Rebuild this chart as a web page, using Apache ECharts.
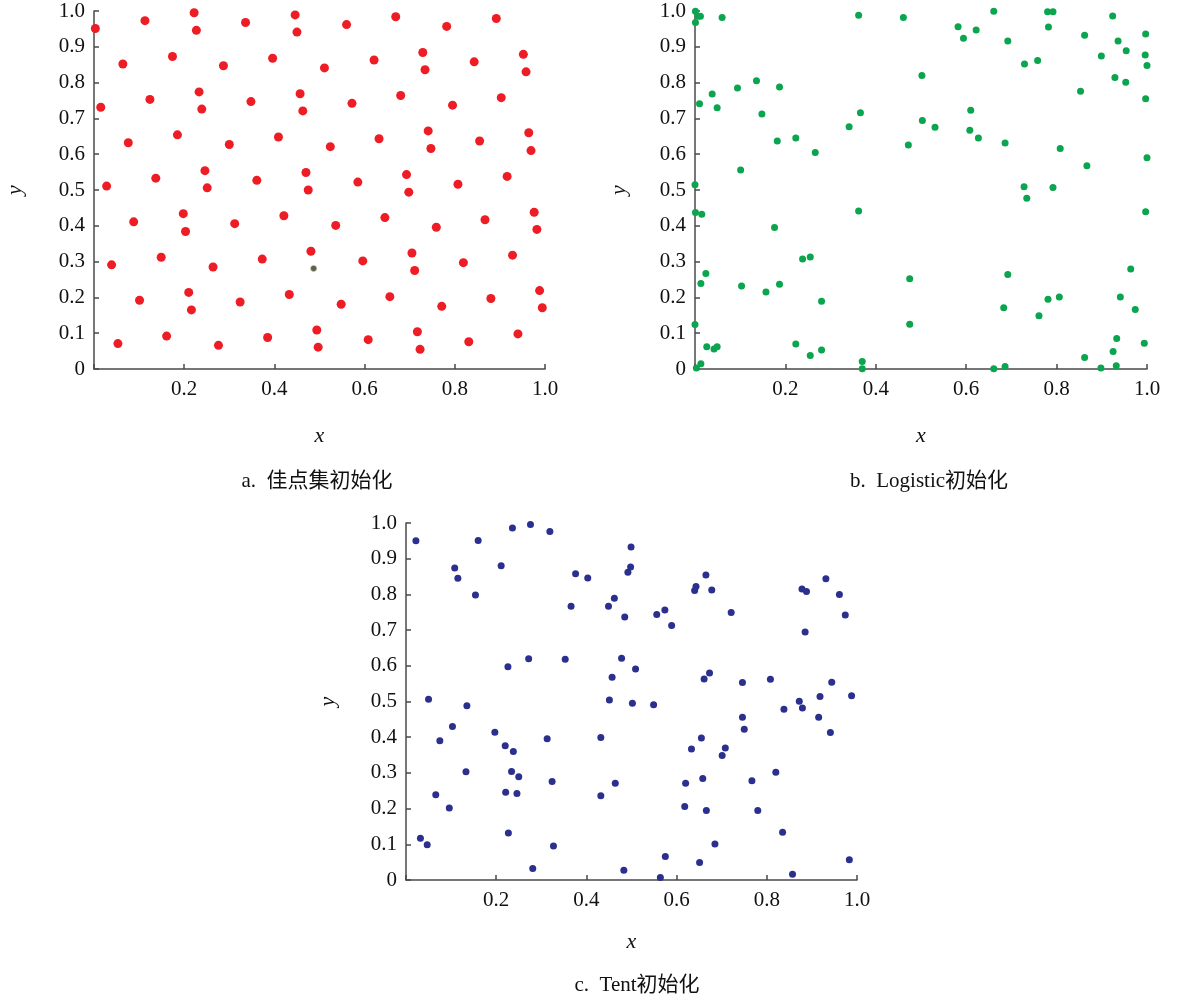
<!DOCTYPE html>
<html>
<head>
<meta charset="utf-8">
<script src="https://cdn.jsdelivr.net/npm/echarts@6/dist/echarts.min.js"></script>
<style>
  html, body { margin: 0; padding: 0; background: #fff; }
  #chart { width: 1179px; height: 997px; }
</style>
</head>
<body>
<div id="chart"></div>
<script>
// Population initialisation: good point set, Logistic map, Tent map
const goodPoints = [
  [0.003,0.951],[0.113,0.973],[0.222,0.995],[0.227,0.946],[0.336,0.968],[0.446,0.989],[0.450,0.941],
  [0.064,0.852],[0.174,0.873],[0.287,0.847],[0.396,0.868],[0.015,0.731],[0.124,0.753],[0.233,0.774],
  [0.239,0.726],[0.348,0.747],[0.457,0.769],[0.463,0.721],[0.076,0.632],[0.185,0.654],[0.300,0.627],
  [0.409,0.648],[0.028,0.511],[0.137,0.533],[0.246,0.554],[0.251,0.506],[0.361,0.527],[0.470,0.549],
  [0.475,0.500],[0.088,0.411],[0.198,0.434],[0.203,0.384],[0.312,0.406],[0.421,0.428],[0.039,0.291],
  [0.149,0.312],[0.264,0.285],[0.373,0.307],[0.481,0.329],[0.101,0.192],[0.210,0.214],[0.216,0.165],
  [0.324,0.187],[0.433,0.208],[0.053,0.071],[0.161,0.092],[0.276,0.066],[0.385,0.088],[0.494,0.109],
  [0.497,0.061],
  [0.560,0.962],[0.669,0.984],[0.782,0.957],[0.892,0.979],[0.511,0.841],[0.621,0.863],[0.729,0.884],
  [0.734,0.836],[0.843,0.858],[0.952,0.879],[0.958,0.830],[0.572,0.742],[0.680,0.764],[0.795,0.737],
  [0.903,0.758],[0.524,0.621],[0.632,0.643],[0.741,0.665],[0.747,0.616],[0.855,0.637],[0.964,0.660],
  [0.969,0.610],[0.585,0.522],[0.693,0.543],[0.698,0.494],[0.807,0.516],[0.916,0.538],[0.536,0.401],
  [0.645,0.423],[0.759,0.396],[0.867,0.417],[0.976,0.438],[0.982,0.390],[0.596,0.302],[0.705,0.324],
  [0.711,0.275],[0.819,0.297],[0.928,0.318],[0.548,0.181],[0.656,0.202],[0.771,0.175],[0.880,0.197],
  [0.988,0.219],[0.994,0.171],[0.608,0.082],[0.717,0.104],[0.723,0.055],[0.831,0.076],[0.940,0.098]
];
const goodPointMarked = [[0.487,0.281]];

const logisticPoints = [
  [0.001,0.999],[0.007,0.985],[0.012,0.985],[0.001,0.968],[0.060,0.982],[0.362,0.988],[0.461,0.982],
  [0.502,0.820],[0.010,0.741],[0.038,0.768],[0.049,0.730],[0.094,0.785],[0.136,0.805],[0.187,0.788],
  [0.148,0.712],[0.366,0.716],[0.503,0.694],[0.341,0.677],[0.182,0.637],[0.223,0.645],[0.266,0.605],
  [0.472,0.626],[0.101,0.556],[0.000,0.515],[0.001,0.437],[0.015,0.432],[0.362,0.441],[0.176,0.395],
  [0.238,0.307],[0.255,0.313],[0.024,0.267],[0.013,0.239],[0.103,0.232],[0.187,0.237],[0.157,0.215],
  [0.280,0.189],[0.475,0.252],[0.475,0.125],[0.000,0.124],[0.026,0.062],[0.042,0.056],[0.049,0.062],
  [0.223,0.070],[0.255,0.038],[0.280,0.053],[0.370,0.021],[0.370,0.001],[0.003,0.003],[0.013,0.015],
  [0.661,0.999],[0.780,0.998],[0.792,0.998],[0.782,0.955],[0.582,0.956],[0.622,0.947],[0.594,0.924],
  [0.692,0.916],[0.924,0.986],[0.862,0.932],[0.936,0.916],[0.954,0.889],[0.997,0.936],[0.996,0.877],
  [1.000,0.848],[0.899,0.874],[0.729,0.852],[0.758,0.862],[0.929,0.814],[0.953,0.801],[0.853,0.776],
  [0.997,0.755],[0.610,0.723],[0.531,0.675],[0.608,0.667],[0.627,0.645],[0.686,0.631],[0.808,0.616],
  [0.867,0.568],[1.000,0.590],[0.728,0.509],[0.792,0.507],[0.734,0.477],[0.997,0.439],[0.692,0.264],
  [0.964,0.279],[0.781,0.195],[0.806,0.201],[0.941,0.201],[0.683,0.171],[0.761,0.149],[0.974,0.166],
  [0.933,0.085],[0.994,0.072],[0.925,0.049],[0.862,0.032],[0.686,0.007],[0.661,0.001],[0.898,0.003],
  [0.932,0.009]
];

const tentPoints = [
  [0.022,0.950],[0.160,0.951],[0.236,0.986],[0.276,0.996],[0.319,0.976],[0.108,0.874],[0.115,0.845],
  [0.211,0.880],[0.154,0.798],[0.376,0.858],[0.403,0.846],[0.366,0.767],[0.499,0.933],[0.498,0.877],
  [0.492,0.862],[0.462,0.789],[0.449,0.767],[0.485,0.737],[0.272,0.620],[0.353,0.618],[0.226,0.597],
  [0.478,0.621],[0.509,0.591],[0.457,0.568],[0.050,0.506],[0.135,0.488],[0.451,0.504],[0.502,0.495],
  [0.103,0.430],[0.075,0.390],[0.197,0.414],[0.220,0.376],[0.238,0.360],[0.313,0.396],[0.432,0.399],
  [0.133,0.303],[0.234,0.304],[0.250,0.289],[0.324,0.276],[0.464,0.271],[0.066,0.239],[0.096,0.202],
  [0.221,0.246],[0.246,0.242],[0.432,0.236],[0.032,0.117],[0.047,0.099],[0.227,0.132],[0.327,0.095],
  [0.281,0.032],[0.483,0.027],
  [0.556,0.744],[0.574,0.756],[0.589,0.713],[0.640,0.811],[0.643,0.822],[0.665,0.854],[0.678,0.812],
  [0.721,0.749],[0.878,0.815],[0.888,0.808],[0.931,0.844],[0.961,0.800],[0.974,0.742],[0.885,0.695],
  [0.549,0.491],[0.661,0.563],[0.673,0.580],[0.746,0.553],[0.808,0.562],[0.838,0.478],[0.872,0.501],
  [0.879,0.482],[0.918,0.514],[0.944,0.554],[0.988,0.516],[0.915,0.456],[0.941,0.413],[0.746,0.456],
  [0.750,0.422],[0.655,0.398],[0.633,0.367],[0.708,0.370],[0.701,0.349],[0.820,0.302],[0.620,0.271],
  [0.658,0.284],[0.767,0.278],[0.618,0.206],[0.666,0.195],[0.780,0.195],[0.835,0.134],[0.685,0.101],
  [0.575,0.066],[0.651,0.049],[0.983,0.057],[0.564,0.007],[0.857,0.016]
];

const xTicks = [0, 0.2, 0.4, 0.6, 0.8, 1.0];
const yTicks = [0, 0.1, 0.2, 0.3, 0.4, 0.5, 0.6, 0.7, 0.8, 0.9, 1.0];
const captions = ['a.  佳点集初始化', 'b.  Logistic初始化', 'c.  Tent初始化'];

const serif = '"Liberation Serif", "Times New Roman", "Noto Sans CJK SC", serif';
const axisColor = '#4a4a4a';

const grids = [
  { left: 94,  top: 11,  width: 451, height: 358 },
  { left: 695, top: 11,  width: 452, height: 358 },
  { left: 406, top: 523, width: 451, height: 357 }
];
const xNameGap = [56, 56, 51];
const yNameGap = [68, 65, 67];

function xAxis(i) {
  return {
    gridIndex: i, type: 'value', min: 0, max: 1, interval: 0.2,
    name: 'x', nameLocation: 'middle', nameGap: xNameGap[i],
    nameTextStyle: { fontFamily: serif, fontStyle: 'italic', fontSize: 22, color: '#111' },
    axisLine: { show: true, lineStyle: { color: axisColor, width: 1.5 } },
    axisTick: { show: true, inside: true, length: 5, lineStyle: { color: axisColor, width: 1.5 } },
    axisLabel: {
      fontFamily: serif, fontSize: 21, color: '#111', margin: 10,
      formatter: v => (v === 0 || xTicks.indexOf(v) < 0) ? '' : v.toFixed(1)
    },
    splitLine: { show: false }
  };
}
function yAxis(i) {
  return {
    gridIndex: i, type: 'value', min: 0, max: 1, interval: 0.1,
    name: 'y', nameLocation: 'middle', nameGap: yNameGap[i], nameRotate: 90,
    nameTextStyle: { fontFamily: serif, fontStyle: 'italic', fontSize: 22, color: '#111' },
    axisLine: { show: true, lineStyle: { color: axisColor, width: 1.5 } },
    axisTick: { show: true, inside: true, length: 5, lineStyle: { color: axisColor, width: 1.5 } },
    axisLabel: {
      fontFamily: serif, fontSize: 21, color: '#111', margin: 9,
      formatter: v => v === 0 ? '0' : (Math.round(v * 10) / 10).toFixed(1)
    },
    splitLine: { show: false }
  };
}

const captionStyle = { fontFamily: serif, fontSize: 21, fontWeight: 'normal', color: '#111' };

const chart = echarts.init(document.getElementById('chart'), null, { renderer: 'canvas' });
chart.setOption({
  animation: false,
  backgroundColor: '#fff',
  title: [
    { text: captions[0], left: 312, top: 466, textAlign: 'center', textStyle: captionStyle },
    { text: captions[1], left: 924, top: 466, textAlign: 'center', textStyle: captionStyle },
    { text: captions[2], left: 632, top: 970, textAlign: 'center', textStyle: captionStyle }
  ],
  grid: grids,
  xAxis: [xAxis(0), xAxis(1), xAxis(2)],
  yAxis: [yAxis(0), yAxis(1), yAxis(2)],
  series: [
    { type: 'scatter', xAxisIndex: 0, yAxisIndex: 0, data: goodPoints, symbolSize: 9,
      itemStyle: { color: '#ee1c24', opacity: 1 } },
    { type: 'scatter', xAxisIndex: 0, yAxisIndex: 0, data: goodPointMarked, symbolSize: 6,
      itemStyle: { color: '#2e3a36', borderColor: '#c8c070', borderWidth: 0.6 } },
    { type: 'scatter', xAxisIndex: 1, yAxisIndex: 1, data: logisticPoints, symbolSize: 7,
      itemStyle: { color: '#0aa54e', opacity: 1 } },
    { type: 'scatter', xAxisIndex: 2, yAxisIndex: 2, data: tentPoints, symbolSize: 7,
      itemStyle: { color: '#2b2f8e', opacity: 1 } }
  ]
});
</script>
</body>
</html>
